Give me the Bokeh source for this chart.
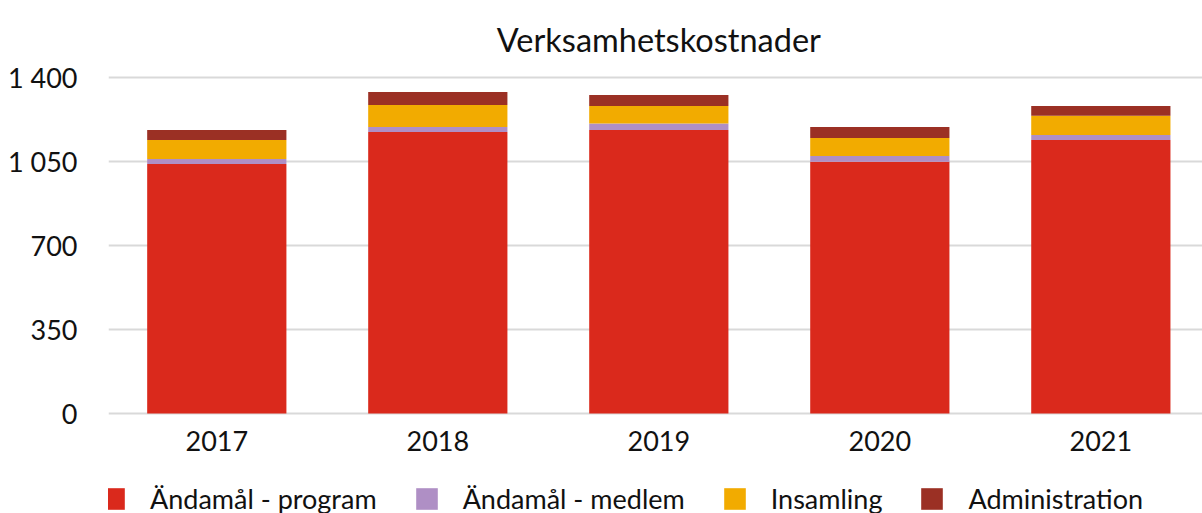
from bokeh.plotting import figure
from bokeh.models import ColumnDataSource, FixedTicker, Range1d, Legend, LegendItem, Label
from bokeh.core.properties import value
from bokeh.embed import file_html
from bokeh.resources import INLINE

years = ["2017", "2018", "2019", "2020", "2021"]
program = [1041, 1175, 1183, 1050, 1141]
medlem = [21, 21, 27, 25, 21]
insamling = [79, 91, 73, 75, 80]
administration = [42, 55, 46, 46, 41]

series_names = ["Ändamål - program", "Ändamål - medlem", "Insamling", "Administration"]
colors = ["#DA291C", "#AF8FC5", "#F2AB00", "#9B3024"]

y_ticks = [0, 350, 700, 1050, 1400]
y_tick_labels = ["0", "350", "700", "1 050", "1 400"]
title_text = "Verksamhetskostnader"

FONT = "Lato"
TXT = "#111111"
x = list(range(len(years)))
source = ColumnDataSource(dict(x=x, years=years, zero=[0] * len(years), program=program, medlem=medlem,
                               insamling=insamling, administration=administration))

p = figure(width=1202, height=513, output_backend="svg", toolbar_location=None,
           x_range=Range1d(-0.49, 4.46), y_range=Range1d(-417.3, 1723.4),
           x_axis_location=None,
           min_border_left=108, min_border_right=0, min_border_top=0, min_border_bottom=0)

renderers = p.vbar_stack(["program", "medlem", "insamling", "administration"], x="x", width=0.63,
                         color=colors, line_width=0, source=source)

# category labels under the bars
p.text(x="x", y="zero", text="years", source=source, text_align="center",
       text_baseline="alphabetic", y_offset=28, text_font=value(FONT),
       text_font_size="27px", text_color=TXT)

# chart title, centred over the middle category
p.add_layout(Label(x=(len(years) - 1) / 2, y=1560, text=title_text, text_align="center",
                   text_baseline="alphabetic", text_font=FONT, text_font_size="32.5px",
                   text_color=TXT))

p.outline_line_color = None
p.xgrid.grid_line_color = None
p.ygrid.grid_line_color = "#D9D9D9"
p.ygrid.grid_line_width = 2
p.ygrid.ticker = FixedTicker(ticks=y_ticks)

p.yaxis.ticker = FixedTicker(ticks=y_ticks)
p.yaxis.major_label_overrides = {t: l for t, l in zip(y_ticks, y_tick_labels)}
p.yaxis.axis_line_color = None
p.yaxis.major_tick_line_color = None
p.yaxis.minor_tick_line_color = None
p.yaxis.major_tick_out = 0
p.yaxis.major_tick_in = 0
p.yaxis.major_label_text_font = FONT
p.yaxis.major_label_text_font_size = "27px"
p.yaxis.major_label_text_color = TXT
p.yaxis.major_label_standoff = 31

legend = Legend(items=[LegendItem(label=n, renderers=[r]) for n, r in zip(series_names, renderers)],
                orientation="horizontal", location=(-8, -2),
                glyph_width=27, glyph_height=27, label_standoff=23, spacing=36,
                padding=0, margin=0, border_line_color=None, background_fill_alpha=0,
                label_text_font=FONT, label_text_font_size="27px", label_text_color=TXT)
p.add_layout(legend, "center")

open("out.html", "w").write(file_html(p, INLINE))
